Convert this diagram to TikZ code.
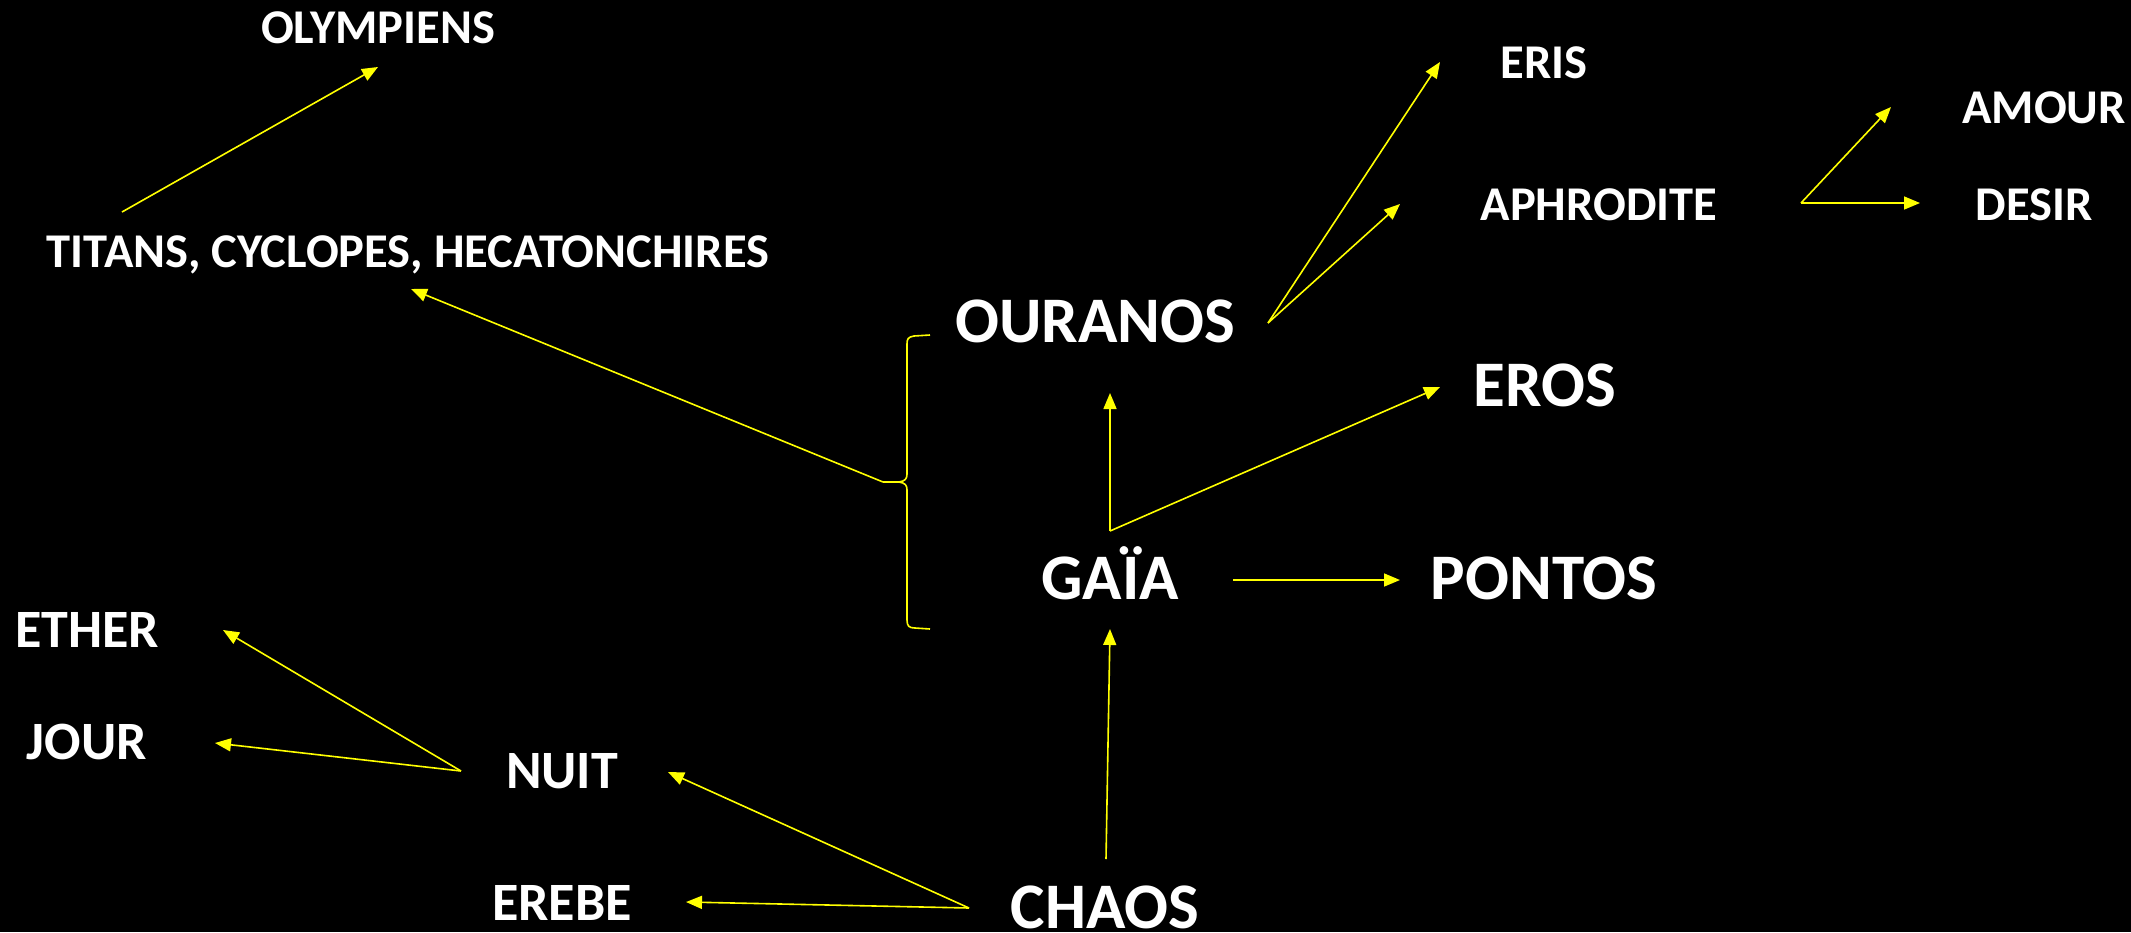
\documentclass[tikz,border=0pt]{standalone}
\usepackage{fontspec}
\setmainfont{Carlito}
\usetikzlibrary{arrows.meta}
\definecolor{arr}{RGB}{255,255,0}
\tikzset{
  big/.style={text=white,font=\fontsize{65}{65}\selectfont\bfseries,inner sep=0pt,anchor=base},
  small/.style={text=white,font=\fontsize{48.5}{48.5}\selectfont\bfseries,inner sep=0pt,anchor=base},
  mid/.style={text=white,font=\fontsize{54}{54}\selectfont\bfseries,inner sep=0pt,anchor=base},
  link/.style={draw=arr,line width=1.6pt,-{Triangle[length=16pt,width=13pt]},arr},
  bracep/.style={draw=arr,line width=1.6pt}
}
\begin{document}
\begin{tikzpicture}[x=1pt,y=-1pt]
\fill[black] (0,0) rectangle (2131,932);
\useasboundingbox (0,0) rectangle (2131,932);
% texts
\node[small] (oly) at (378,43) {OLYMPIENS};
\node[small] (tit) at (408,267) {TITANS, CYCLOPES, HECATONCHIRES};
\node[big] (our) at (1095,342) {OURANOS};
\node[big] (eros) at (1545,406) {EROS};
\node[big] (gaia) at (1110,599) {GAÏA};
\node[big] (pont) at (1544,599) {PONTOS};
\node[big] (chaos) at (1105,928) {CHAOS};
\node[small] (eris) at (1544,78) {ERIS};
\node[small] (aph) at (1599,220) {APHRODITE};
\node[small] (amour) at (2044,123) {AMOUR};
\node[small] (desir) at (2034,220) {DESIR};
\node[mid] (ether) at (87,647) {ETHER};
\node[mid] (jour) at (87,759) {JOUR};
\node[mid] (nuit) at (562,788) {NUIT};
\node[mid] (erebe) at (562,920) {EREBE};
% connector end points
\coordinate (titS) at (122,212);
\coordinate (olyE) at (378,67);
\coordinate (brTip) at (883,482);
\coordinate (titE) at (411,289);
\coordinate (ourS) at (1268,323);
\coordinate (erisE) at (1440,62);
\coordinate (aphE) at (1400,204);
\coordinate (aphS) at (1801,203);
\coordinate (amourE) at (1891,107);
\coordinate (desirE) at (1920,203);
\coordinate (gaiaS) at (1110,531);
\coordinate (ourE) at (1110,393);
\coordinate (erosE) at (1440,387);
\coordinate (pontS) at (1233,580);
\coordinate (pontE) at (1400,580);
\coordinate (chaosS) at (1106,859);
\coordinate (gaiaE) at (1110,629);
\coordinate (chaosL) at (969,908);
\coordinate (nuitE) at (668,772);
\coordinate (erebeE) at (686,902);
\coordinate (nuitS) at (461,771);
\coordinate (etherE) at (223,630);
\coordinate (jourE) at (215,743);
% brace
\draw[bracep] (930,335) -- (914,336) .. controls (908,337) and (907,339) .. (907,344) -- (907,474)
  .. controls (907,479) and (905,481) .. (899,482) -- (brTip);
\draw[bracep] (899,482) .. controls (905,483) and (907,485) .. (907,490) -- (907,620)
  .. controls (907,626) and (909,628) .. (915,628) -- (930,629);
% connectors
\draw[link] (titS) -- (olyE);
\draw[link] (brTip) -- (titE);
\draw[link] (ourS) -- (erisE);
\draw[link] (ourS) -- (aphE);
\draw[link] (aphS) -- (amourE);
\draw[link] (aphS) -- (desirE);
\draw[link] (gaiaS) -- (ourE);
\draw[link] (gaiaS) -- (erosE);
\draw[link] (pontS) -- (pontE);
\draw[link] (chaosS) -- (gaiaE);
\draw[link] (chaosL) -- (nuitE);
\draw[link] (chaosL) -- (erebeE);
\draw[link] (nuitS) -- (etherE);
\draw[link] (nuitS) -- (jourE);
\end{tikzpicture}
\end{document}
